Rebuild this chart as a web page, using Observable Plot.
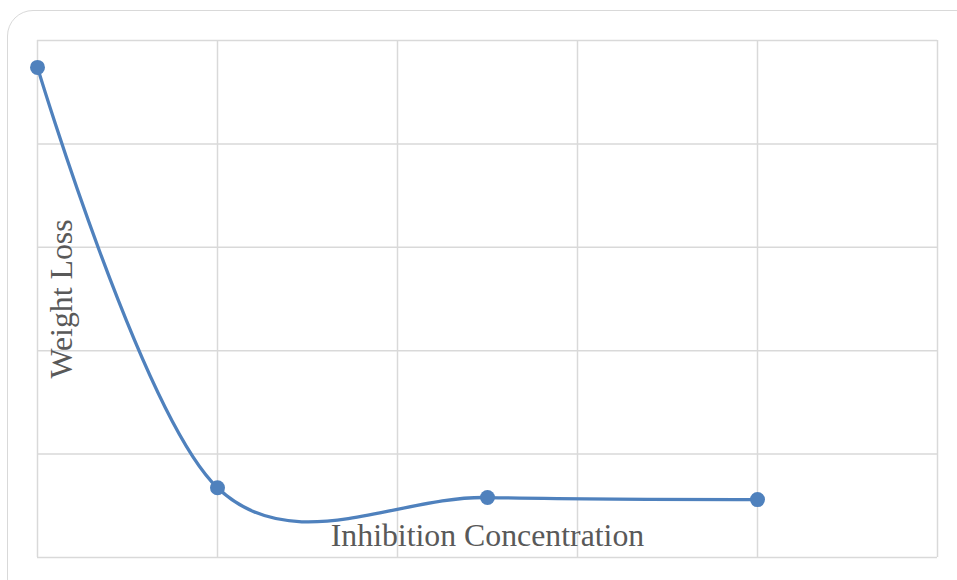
<!DOCTYPE html>
<html>
<head>
<meta charset="utf-8">
<script src="https://cdn.jsdelivr.net/npm/d3@7"></script>
<script src="https://cdn.jsdelivr.net/npm/@observablehq/plot@0.6"></script>
<style>
  html, body { margin: 0; padding: 0; background: #fff; overflow: hidden; }
  #wrap { position: relative; width: 957px; height: 580px; overflow: hidden; }
  #box { position: absolute; left: 7px; top: 10px; width: 975px; height: 595px;
         border: 1.5px solid #d9d9d9; border-radius: 26px; box-sizing: border-box; }
  #chart { position: absolute; left: 0; top: 0; }
</style>
</head>
<body>
<div id="wrap"><div id="box"></div><div id="chart"></div></div>
<script>
const concentration = [0, 1, 2.5, 4];
const weightLoss = [4.74, 0.674, 0.58, 0.56];
const gridTicks = [0, 1, 2, 3, 4, 5];
const xTitle = "Inhibition Concentration";
const yTitle = "Weight Loss";

const data = concentration.map((c, i) => ({c, w: weightLoss[i]}));
const blue = "#4f81bd";
const grey = "#d9d9d9";
const font = "Liberation Serif, Times New Roman, serif";

const chart = Plot.plot({
  width: 957,
  height: 580,
  marginLeft: 37,
  marginRight: 20,
  marginTop: 40,
  marginBottom: 23,
  style: {background: "transparent", overflow: "visible"},
  x: {domain: [0, 5], axis: null},
  y: {domain: [0, 5], axis: null},
  marks: [
    Plot.gridX(gridTicks, {stroke: grey, strokeOpacity: 1, strokeWidth: 1.5}),
    Plot.gridY(gridTicks, {stroke: grey, strokeOpacity: 1, strokeWidth: 1.5}),
    Plot.line(data, {x: "c", y: "w", curve: "cardinal", tension: 0, stroke: blue, strokeWidth: 3.3}),
    Plot.dot(data, {x: "c", y: "w", r: 7.5, fill: blue, stroke: "none"}),
    Plot.text([xTitle], {x: 2.5, y: 0, dy: -22, text: d => d, fontFamily: font, fontSize: 31.8, fill: "#595959", textAnchor: "middle", lineAnchor: "middle"}),
    Plot.text([yTitle], {x: 0, y: 2.5, dx: 24, rotate: -90, text: d => d, fontFamily: font, fontSize: 31.8, fill: "#595959", textAnchor: "middle", lineAnchor: "middle"})
  ]
});
document.getElementById("chart").appendChild(chart);
</script>
</body>
</html>
